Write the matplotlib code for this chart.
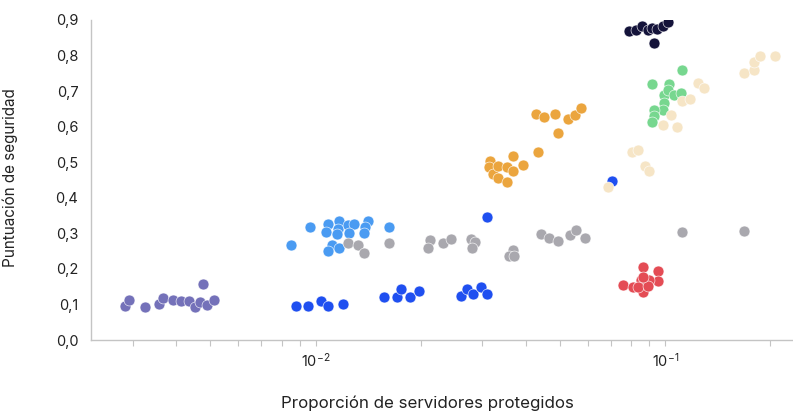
import numpy as np
import matplotlib
matplotlib.use("Agg")
import matplotlib.pyplot as plt
from matplotlib.ticker import FixedLocator, FuncFormatter, LogLocator, NullFormatter

plt.rcParams['font.family'] = ['Inter', 'DejaVu Sans']

# proportion of protected servers (x) and security score (y), one pair of lists per group
purple_x = [0.00286, 0.00293, 0.00325, 0.00356, 0.00367, 0.00392, 0.00412, 0.00434,
            0.00451, 0.00466, 0.00478, 0.00491, 0.00513]
purple_y = [0.097, 0.113, 0.094, 0.101, 0.117, 0.113, 0.109, 0.111,
            0.094, 0.108, 0.158, 0.098, 0.113]

blue_x = [0.00881, 0.00951, 0.01035, 0.01089, 0.0120, 0.01572, 0.01712, 0.0175,
          0.01862, 0.01974, 0.02608, 0.02719, 0.02817, 0.02974, 0.03088, 0.03088, 0.07043]
blue_y = [0.096, 0.096, 0.111, 0.096, 0.102, 0.122, 0.122, 0.143,
          0.122, 0.139, 0.125, 0.143, 0.129, 0.148, 0.129, 0.347, 0.447]

lightblue_x = [0.00852, 0.00967, 0.01089, 0.01073, 0.01171, 0.01159, 0.01238, 0.01287,
               0.01153, 0.01245, 0.01417, 0.01384, 0.0138, 0.01112, 0.01087, 0.01171, 0.01622]
lightblue_y = [0.266, 0.318, 0.325, 0.304, 0.335, 0.312, 0.323, 0.325,
               0.297, 0.300, 0.335, 0.319, 0.302, 0.266, 0.250, 0.259, 0.318]

gray_x = [0.01238, 0.01322, 0.0138, 0.01627, 0.02131, 0.02095, 0.02317, 0.02442,
          0.0278, 0.0286, 0.02804, 0.03664, 0.03576, 0.03703, 0.04414, 0.04662,
          0.04928, 0.05336, 0.05559, 0.05884, 0.1114, 0.1675]
gray_y = [0.272, 0.267, 0.244, 0.272, 0.280, 0.259, 0.274, 0.283,
          0.284, 0.276, 0.258, 0.252, 0.235, 0.235, 0.298, 0.288,
          0.279, 0.295, 0.310, 0.288, 0.303, 0.307]

orange_x = [0.03162, 0.03141, 0.03213, 0.0332, 0.03334, 0.03537, 0.03664, 0.0353,
            0.03664, 0.03929, 0.04336, 0.04257, 0.04494, 0.04831, 0.04936, 0.05284,
            0.05521, 0.05743]
orange_y = [0.503, 0.487, 0.466, 0.456, 0.489, 0.487, 0.475, 0.445,
            0.517, 0.492, 0.529, 0.636, 0.628, 0.636, 0.582, 0.622,
            0.633, 0.652]

red_x = [0.07585, 0.08069, 0.08652, 0.09512, 0.0955, 0.08652, 0.09002, 0.08523,
         0.08337, 0.08906, 0.08618]
red_y = [0.155, 0.148, 0.204, 0.194, 0.166, 0.136, 0.169, 0.169,
         0.150, 0.152, 0.178]

green_x = [0.1116, 0.09163, 0.1023, 0.09934, 0.1018, 0.1057, 0.1113, 0.09934,
           0.09883, 0.09284, 0.09284, 0.09193]
green_y = [0.759, 0.719, 0.719, 0.689, 0.703, 0.689, 0.694, 0.667,
           0.647, 0.647, 0.629, 0.612]

navy_x = [0.07873, 0.08248, 0.08607, 0.08925, 0.09163, 0.095, 0.09849, 0.1021, 0.09284]
navy_y = [0.870, 0.873, 0.883, 0.872, 0.877, 0.875, 0.884, 0.894, 0.834]

cream_x = [0.1675, 0.1796, 0.1796, 0.1865, 0.2065, 0.1238, 0.1287, 0.1116,
           0.1179, 0.1038, 0.09849, 0.1078, 0.0802, 0.08356, 0.08731, 0.08984, 0.06883]
cream_y = [0.752, 0.759, 0.783, 0.799, 0.799, 0.724, 0.708, 0.672,
           0.677, 0.633, 0.604, 0.598, 0.530, 0.534, 0.490, 0.475, 0.431]

groups = [
    (purple_x, purple_y, '#7471b9'),
    (blue_x, blue_y, '#1f4ff0'),
    (lightblue_x, lightblue_y, '#4a9bf2'),
    (gray_x, gray_y, '#a9a8ae'),
    (orange_x, orange_y, '#eba53e'),
    (red_x, red_y, '#e44c55'),
    (green_x, green_y, '#77d78f'),
    (navy_x, navy_y, '#14133a'),
    (cream_x, cream_y, '#f6e5c6'),
]

y_ticks = [0.0, 0.1, 0.2, 0.3, 0.4, 0.5, 0.6, 0.7, 0.8, 0.9]

fig = plt.figure(figsize=(7.93, 4.11), dpi=100)
ax = fig.add_axes([91 / 793, 1 - 340 / 411, 1 - 91 / 793, 320 / 411])

for gx, gy, col in groups:
    ax.scatter(gx, gy, s=62, color=col, edgecolors='white', linewidths=0.4, zorder=3)

ax.set_xscale('log')
ax.set_xlim(0.00228, 0.2320)
ax.set_ylim(0, 0.9)

ax.yaxis.set_major_locator(FixedLocator(y_ticks))
ax.yaxis.set_major_formatter(FuncFormatter(lambda v, p: f"{v:.1f}".replace('.', ',')))
ax.xaxis.set_major_locator(LogLocator(base=10))
ax.xaxis.set_minor_locator(LogLocator(base=10, subs=np.arange(2, 10)))
ax.xaxis.set_minor_formatter(NullFormatter())

for side in ['top', 'right']:
    ax.spines[side].set_visible(False)
for side in ['left', 'bottom']:
    ax.spines[side].set_color('#c4c4c4')
    ax.spines[side].set_linewidth(1.0)

ax.tick_params(axis='y', length=0, pad=9, labelsize=10.5, labelcolor='#222222')
ax.tick_params(axis='x', which='both', length=4.5, width=0.8, color='#c4c4c4',
               labelsize=10.5, labelcolor='#222222', pad=4)

ax.set_xlabel('Proporción de servidores protegidos', fontsize=12.2, color='#222222')
ax.xaxis.set_label_coords(0.4786, -0.172)
ax.set_ylabel('Puntuación de seguridad', fontsize=11, color='#222222')
ax.yaxis.set_label_coords(-0.104, 0.506)

fig.savefig('out.png', dpi=100)
